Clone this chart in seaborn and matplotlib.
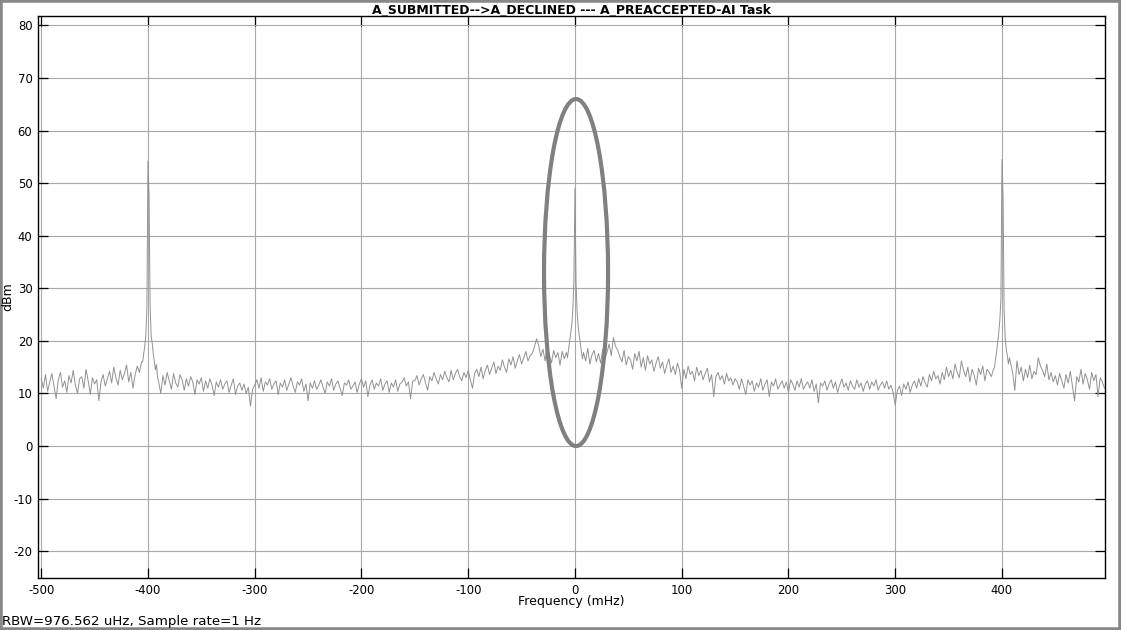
import numpy as np
import pandas as pd
import matplotlib
matplotlib.use("Agg")
import matplotlib.pyplot as plt
from matplotlib.patches import Ellipse, Rectangle
import seaborn as sns

# spectrum values, segment by segment (dBm)
# each segment: first frequency (mHz), step (mHz), values
seg_a = (-500, 2, [12.8, 11.0, 13.6, 10.4, 12.2, 13.8, 11.4, 9.0, 12.6, 14.0,
                   11.2, 12.4, 10.2, 13.4, 12.0, 14.4, 11.6, 10.0, 12.8, 13.2,
                   11.0, 14.6, 12.4, 9.8, 13.0, 11.8, 12.6, 8.6, 12.2, 13.6,
                   11.4, 12.8, 14.2, 12.0, 15.0, 13.0, 11.6, 14.4, 12.6, 13.8,
                   15.4, 12.2, 14.0, 11.0, 13.6, 15.2, 14.0, 16.0])
seg_b = (-405, 1, [16.0, 17.5, 19.0, 21.0, 26.0, 54.2, 48.0, 27.0, 21.0, 19.5,
                   17.5, 16.0, 14.5, 15.5, 13.0])
seg_c = (-390, 2, [12.2, 10.0, 13.4, 11.6, 14.0, 12.4, 10.8, 13.8, 12.0, 11.2,
                   13.6, 12.6, 10.6, 12.8, 11.4, 13.2, 12.2, 9.8, 12.6, 11.8,
                   13.0, 10.4, 12.4, 11.0, 12.8, 11.6, 9.6, 12.2, 11.2, 12.6,
                   10.8, 11.8, 12.4, 10.2, 11.6, 12.8, 9.8, 11.4, 12.0, 10.6,
                   11.8, 10.0, 11.2, 7.6, 10.8, 11.6])
seg_d = (-298, 2, [12.6, 11.0, 13.0, 10.4, 12.2, 11.6, 12.8, 10.8, 11.8, 12.4,
                   9.8, 12.0, 11.2, 12.6, 10.6, 11.8, 13.0, 11.4, 10.2, 12.2,
                   11.6, 12.8, 10.4, 11.8, 8.6, 12.0, 11.0, 12.4, 10.8, 11.6,
                   12.6, 11.2, 10.0, 12.2, 11.4, 12.8, 10.6, 11.8, 12.4, 11.0,
                   9.6, 12.0, 11.6, 12.6, 10.8, 11.4, 12.2, 10.2, 11.8, 12.8,
                   11.2, 12.4, 9.4, 11.6, 12.6, 10.8, 12.0, 11.4, 12.8, 10.6,
                   11.8, 12.4, 10.2, 12.0, 11.2, 12.6, 10.4, 11.8, 12.2, 13.0,
                   11.4, 12.2, 9.0, 12.4])
seg_e = (-150, 2, [12.4, 13.4, 11.6, 12.8, 13.6, 12.0, 10.6, 13.2, 12.4, 14.0,
                   12.8, 11.8, 13.6, 12.6, 14.2, 13.0, 12.2, 14.4, 12.6, 13.8,
                   14.6, 13.2, 12.4, 14.0, 13.0])
seg_f = (-100, 2, [14.4, 12.6, 11.0, 13.8, 14.6, 13.2, 15.0, 12.8, 14.4, 15.4,
                   13.6, 14.8, 16.0, 13.8, 15.2, 14.4, 16.4, 15.0, 14.0, 16.6,
                   15.4, 17.0, 14.8, 16.2, 17.4, 15.6, 16.8, 18.0, 16.2, 17.2])
seg_g = (-40, 2, [17.6, 18.8, 20.4, 19.2, 17.0, 18.4, 16.2, 19.0, 17.4, 15.8,
                  18.2, 16.8, 17.8, 15.4, 18.0, 16.6, 17.8])
seg_h = (-7, 1, [16.8, 18.4, 20.0, 21.4, 23.0, 26.0, 31.5, 49.0, 31.0, 25.5,
                 22.8, 21.0, 19.6, 18.0, 16.6])
seg_i = (8, 2, [17.8, 16.2, 18.6, 15.6, 17.4, 18.2, 16.0, 17.6, 15.8, 18.4,
                16.8, 17.8, 19.4, 17.2, 20.6, 19.0, 18.2, 17.0])
seg_j = (44, 2, [16.0, 18.2, 15.4, 17.0, 16.4, 14.6, 17.6, 16.2, 18.0, 15.0,
                 16.8, 14.4, 17.2, 15.6, 16.4, 14.2, 15.8, 17.0, 14.8, 16.0,
                 13.8, 15.4, 16.6, 14.0, 15.2, 13.6, 15.8, 14.4, 11.0])
seg_k = (102, 2, [14.6, 12.8, 15.2, 13.6, 14.2, 12.4, 15.0, 13.4, 14.4, 12.6,
                  13.8, 14.8, 12.2, 13.6, 9.4, 13.2, 14.0, 12.6, 13.4, 11.8,
                  13.8, 12.4, 13.0, 11.6, 12.8])
seg_l = (152, 2, [12.2, 10.8, 12.8, 11.4, 9.8, 12.6, 11.6, 12.4, 10.4, 12.0,
                  11.2, 12.8, 10.6, 11.8, 12.6, 9.4, 12.2, 11.4, 12.8, 10.8,
                  11.6, 12.4, 11.0, 12.2, 10.2, 12.6, 11.8, 10.6, 12.4, 11.2,
                  12.8, 10.8, 11.6, 12.2, 11.0, 12.6, 10.4, 11.8, 8.2, 12.0,
                  11.4, 12.4, 10.6, 11.8, 12.6, 11.0, 12.2, 10.2, 11.6, 12.8,
                  11.2, 12.0, 10.6, 12.4, 11.4, 10.8, 12.6, 11.2, 12.0, 10.4,
                  11.8, 12.4, 10.8, 12.2, 11.4, 12.6, 10.6, 11.6, 12.2, 11.0,
                  12.4, 10.8, 11.6, 10.2])
seg_m = (300, 2, [7.8, 10.6, 11.4, 9.6, 11.8, 10.8, 12.2, 10.2, 11.6, 12.4,
                  11.0, 12.8, 11.4, 13.2, 12.0, 11.2, 13.6, 12.4, 14.2, 12.8,
                  13.4, 11.8, 14.0, 12.6, 15.0, 13.2, 14.4, 12.8, 15.6, 14.0,
                  13.0, 16.2, 14.4, 13.2, 15.0, 12.2, 14.6, 13.4, 11.6, 14.8,
                  13.6, 15.2, 12.4, 14.6, 14.0, 13.2, 14.6])
seg_n = (393, 1, [15.0, 16.6, 18.0, 19.8, 21.6, 24.0, 28.0, 54.5, 47.5, 26.0,
                  20.5, 18.4, 17.2, 15.6, 16.8])
seg_o = (408, 2, [15.8, 14.0, 10.6, 16.2, 13.6, 15.0, 12.4, 14.6, 13.0, 15.4,
                  12.8, 14.2, 13.6, 16.8, 15.2, 14.4, 13.2, 15.6, 12.6, 14.0,
                  12.2, 13.4, 11.6, 13.8, 12.4, 11.0, 13.6, 12.0, 14.2, 11.4,
                  8.6, 13.2, 12.2, 14.6, 11.8, 13.8, 12.6, 10.8, 14.0, 12.4,
                  13.6, 9.4, 13.0, 12.2, 11.0])

segments = [seg_a, seg_b, seg_c, seg_d, seg_e, seg_f, seg_g, seg_h,
            seg_i, seg_j, seg_k, seg_l, seg_m, seg_n, seg_o]

x_ticks = [-500, -400, -300, -200, -100, 0, 100, 200, 300, 400]
y_ticks = [-20, -10, 0, 10, 20, 30, 40, 50, 60, 70, 80]

#%%
rows = []
for start, step, vals in segments:
    for i, v in enumerate(vals):
        rows.append((start + i * step, v))
df = pd.DataFrame(rows, columns=["freq", "dbm"]).sort_values("freq")

sns.set_theme(style="ticks")
plt.rcParams["font.family"] = ["DejaVu Sans"]
plt.rcParams["axes.unicode_minus"] = False
plt.rcParams["text.color"] = "black"

fig = plt.figure(figsize=(11.21, 6.30), dpi=100)
ax = fig.add_axes([38 / 1121, 1 - 578 / 630, 1067 / 1121, 561.5 / 630])

ax.grid(True, color="#a8a8a8", linewidth=0.8)
ax.set_axisbelow(True)

sns.lineplot(data=df, x="freq", y="dbm", ax=ax, color="#929292", linewidth=0.7,
             estimator=None, sort=False)

# highlight ring around the centre peak
ax.add_patch(Ellipse((1, 33), width=60, height=66, fill=False,
                     edgecolor="#808080", linewidth=3, zorder=4))

ax.set_xlim(-503, 496.5)
ax.set_ylim(-25.1, 81.7)
ax.set_xticks(x_ticks)
ax.set_yticks(y_ticks)
ax.tick_params(direction="in", length=7, width=0.9, top=True, right=True,
               labelsize=8.4, colors="black", pad=4)
for s in ax.spines.values():
    s.set_color("black")
    s.set_linewidth(1.0)

ax.set_title("A_SUBMITTED-->A_DECLINED --- A_PREACCEPTED-AI Task",
             fontsize=9.0, fontweight="bold", pad=2, color="black")
ax.set_xlabel("Frequency (mHz)", fontsize=9.0, labelpad=-1, color="black")
ax.set_ylabel("")
fig.text(8 / 1121, 1 - 297 / 630, "dBm", fontsize=9.0, rotation=90,
         ha="center", va="center")

fig.text(2 / 1121, 1 - 621 / 630, "RBW=976.562 uHz, Sample rate=1 Hz",
         fontsize=9.6, ha="left", va="center")
fig.patches.append(Rectangle((0, 0), 1, 1, transform=fig.transFigure, fill=False,
                             edgecolor="#888888", linewidth=4))

fig.savefig("out.png", dpi=100)
